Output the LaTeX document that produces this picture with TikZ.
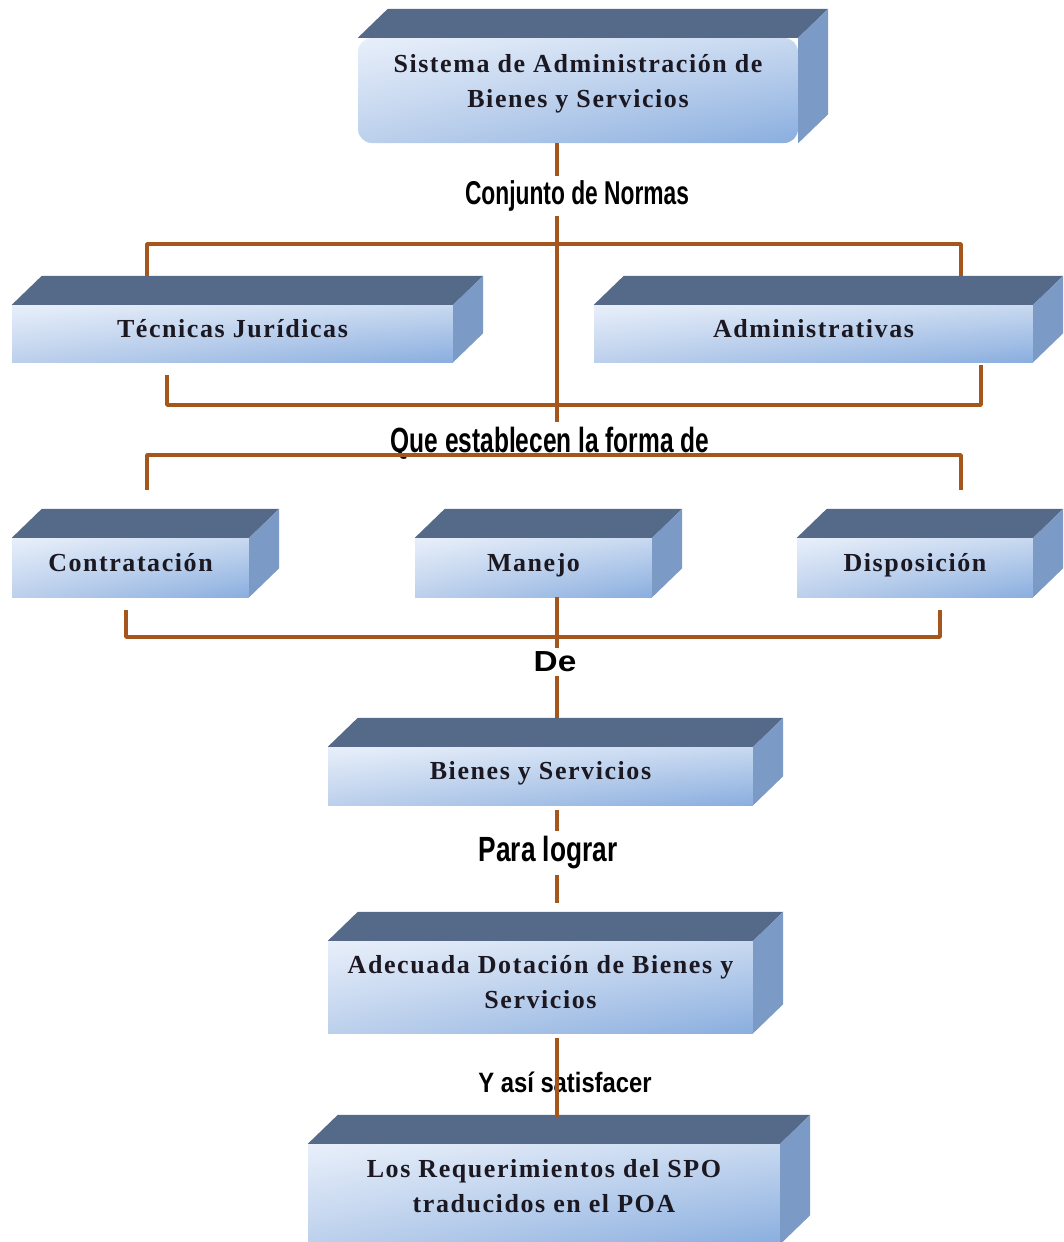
\documentclass[tikz,border=0pt]{standalone}
\usepackage{fontspec}
\usetikzlibrary{shadings,calc}
\setmainfont{Liberation Serif}
\newfontfamily\boxfont[LetterSpace=6]{Liberation Serif}
\newfontfamily\labfont{Liberation Sans}

\definecolor{topface}{HTML}{556A89}
\definecolor{sideface}{HTML}{7B9AC6}
\definecolor{frontUL}{HTML}{E8EFFA}
\definecolor{frontUR}{HTML}{C8D9F0}
\definecolor{frontLL}{HTML}{BCD0EC}
\definecolor{frontLR}{HTML}{8AAEDF}
\definecolor{boxtext}{HTML}{1C1822}
\definecolor{connbrown}{HTML}{A5561C}

\tikzset{
  front/.style={shade, upper left=frontUL, upper right=frontUR,
    lower left=frontLL, lower right=frontLR, inner sep=0pt, align=center,
    text height=17pt, text depth=10pt,
    font=\boxfont\bfseries\fontsize{26}{35}\selectfont, text=boxtext},
  conn/.style={draw=connbrown, line width=3.7pt},
  lab/.style={font=\labfont\bfseries\fontsize{30}{30}\selectfont,
    text=black, inner sep=4pt},
}

\begin{document}
\begin{tikzpicture}[x=1pt,y=-1pt]
\clip (0,0) rectangle (1064,1242);
\fill[white] (0,0) rectangle (1064,1242);

% front faces of the blocks
\node[front, rounded corners=14pt, minimum width=440pt, minimum height=105pt,
  text height=40pt, text depth=7pt]
  (top) at (578,90.5) {Sistema de Administración de\\Bienes y Servicios};
\node[front, minimum width=441pt, minimum height=57pt] (tec) at (232.5,333.5) {Técnicas Jurídicas};
\node[front, minimum width=439pt, minimum height=57pt] (adm) at (813.5,333.5) {Administrativas};
\node[front, minimum width=237pt, minimum height=59pt] (con) at (130.5,567.5) {Contratación};
\node[front, minimum width=237pt, minimum height=59pt] (man) at (533.5,567.5) {Manejo};
\node[front, minimum width=236pt, minimum height=59pt] (dis) at (915,567.5) {Disposición};
\node[front, minimum width=425pt, minimum height=58pt] (bys) at (540.5,776) {Bienes y Servicios};
\node[front, minimum width=425pt, minimum height=92pt, text height=49pt, text depth=7pt]
  (ade) at (540.5,987) {Adecuada Dotación de Bienes y\\Servicios};
\node[front, minimum width=472pt, minimum height=100pt, text height=43pt, text depth=7pt]
  (req) at (544,1194) {Los Requerimientos del SPO\\traducidos en el POA};

% top and side faces
\foreach \n in {top,tec,adm,con,man,dis,bys,ade,req} {
  \fill[topface] (\n.north west) -- ++(30,-29) -- ($(\n.north east)+(30,-29)$)
    -- (\n.north east) -- cycle;
  \fill[sideface] (\n.north east) -- ($(\n.north east)+(30,-29)$)
    -- ($(\n.south east)+(30,-29)$) -- (\n.south east) -- cycle;
}

% connector labels
\node[lab, font=\labfont\bfseries\fontsize{33}{33}\selectfont] (conj) at (577,196)
  {\scalebox{0.69}[1]{Conjunto de Normas}};
\node[lab, anchor=base, font=\labfont\bfseries\fontsize{35}{35}\selectfont] (que) at (550,452)
  {\scalebox{0.70}[1]{Que establecen la forma de}};
\node[lab, font=\labfont\bfseries\fontsize{29}{29}\selectfont] (de) at (555,662) {\scalebox{1.15}[1]{De}};
\node[lab, font=\labfont\bfseries\fontsize{35}{35}\selectfont, inner ysep=5pt] (para) at (548,853)
  {\scalebox{0.75}[1]{Para lograr}};
\node[lab, font=\labfont\bfseries\fontsize{28}{28}\selectfont] (asi) at (565,1082)
  {\scalebox{0.85}[1]{Y así satisfacer}};

% spine and bracket points
\coordinate (spine) at (557,0);
\coordinate (t1) at (147,276);
\coordinate (t2) at (147,244);
\coordinate (t3) at (961,244);
\coordinate (t4) at (961,276);
\coordinate (b1) at (167,375);
\coordinate (b2) at (167,405);
\coordinate (b3) at (981,405);
\coordinate (b4) at (981,365);
\coordinate (u1) at (147,490);
\coordinate (u2) at (147,455);
\coordinate (u3) at (961,455);
\coordinate (u4) at (961,490);
\coordinate (v1) at (126,610);
\coordinate (v2) at (126,637);
\coordinate (v3) at (940,637);
\coordinate (v4) at (940,610);

% connectors
\draw[conn] (spine |- top.south) -- (spine |- conj.north);
\draw[conn] (spine |- conj.south) -- (spine |- que.north);
\draw[conn, line join=round] (t1) -- (t2) -- (t3) -- (t4);
\draw[conn, line join=round] (b1) -- (b2) -- (b3) -- (b4);
\draw[conn, line join=round] (u1) -- (u2) -- (u3) -- (u4);
\draw[conn, line join=round] (v1) -- (v2) -- (v3) -- (v4);
\draw[conn] (spine |- man.south) -- (spine |- de.north);
\draw[conn] (spine |- de.south) -- ($(spine |- bys.north)+(0,-29)$);
\draw[conn] ($(spine |- bys.south)+(0,5)$) -- (spine |- para.north);
\draw[conn] (spine |- para.south) -- ($(spine |- ade.north)+(0,-38)$);
\draw[conn] ($(spine |- ade.south)+(0,5)$) -- ($(spine |- req.north)+(0,-27)$);
\end{tikzpicture}
\end{document}
